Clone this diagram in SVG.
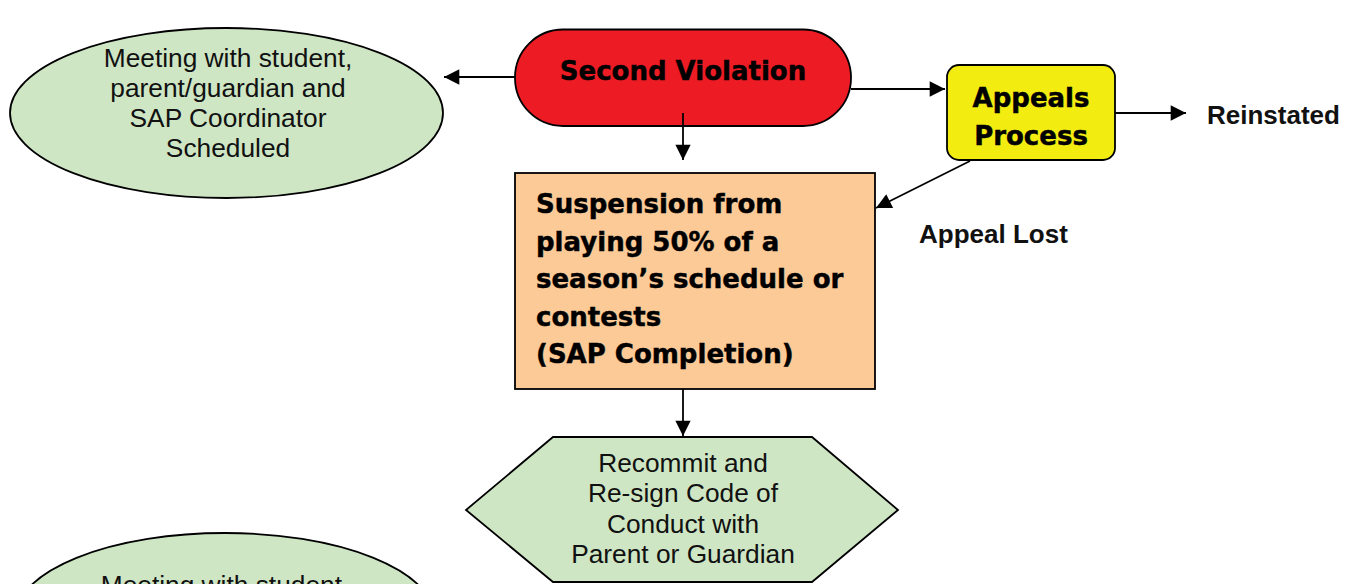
<svg xmlns="http://www.w3.org/2000/svg" width="1358" height="584" viewBox="0 0 1358 584">
<style>
.shape{stroke:#000;stroke-width:1.8}
.green{fill:#CFE6C5}
.reg{font-family:"Liberation Sans",Arial,sans-serif;font-size:26.3px;fill:#111;text-anchor:middle}
.blk{font-family:"DejaVu Sans","Liberation Sans",sans-serif;font-weight:bold;font-size:26px;fill:#000;stroke:#000;stroke-width:0.45}
.lbl{font-family:"Liberation Sans",Arial,sans-serif;font-weight:bold;font-size:26px;fill:#111}
.conn{stroke:#000;stroke-width:1.8;fill:none;marker-end:url(#ah)}
</style>
<defs>
<marker id="ah" viewBox="0 0 10 10" refX="10" refY="5" markerWidth="9" markerHeight="8.5" markerUnits="strokeWidth" orient="auto">
<path d="M0,0 L10,5 L0,10 z" fill="#000"/>
</marker>
</defs>
<rect width="1358" height="584" fill="#fff"/>
<g id="meeting1">
<ellipse class="shape green" cx="226.5" cy="113" rx="216.5" ry="85"/>
<text class="reg" x="228" y="67">Meeting with student,</text>
<text class="reg" x="228" y="97">parent/guardian and</text>
<text class="reg" x="228" y="127">SAP Coordinator</text>
<text class="reg" x="228" y="157">Scheduled</text>
</g>
<g id="second-violation">
<rect class="shape" x="515" y="29.5" width="336" height="96.5" rx="48" ry="48" fill="#ED1C24"/>
<text class="blk" x="683" y="80" text-anchor="middle">Second Violation</text>
</g>
<g id="appeals">
<rect class="shape" x="947" y="65" width="168" height="95" rx="12" ry="12" fill="#F3EC11"/>
<text class="blk" x="1031" y="107" text-anchor="middle">Appeals</text>
<text class="blk" x="1031" y="145" text-anchor="middle">Process</text>
</g>
<g id="reinstated">
<text class="lbl" x="1207" y="124">Reinstated</text>
</g>
<g id="appeal-lost">
<text class="lbl" x="919" y="243">Appeal Lost</text>
</g>
<g id="suspension">
<rect class="shape" x="515" y="173" width="360" height="216" fill="#FBCA97"/>
<text class="blk" x="536" y="213">Suspension from</text>
<text class="blk" x="536" y="251">playing 50% of a</text>
<text class="blk" x="536" y="288">season’s schedule or</text>
<text class="blk" x="536" y="326">contests</text>
<text class="blk" x="536" y="363">(SAP Completion)</text>
</g>
<g id="recommit">
<polygon class="shape green" points="553,437 812,437 898,510 812,582 553,582 466,510"/>
<text class="reg" x="683" y="472">Recommit and</text>
<text class="reg" x="683" y="502">Re-sign Code of</text>
<text class="reg" x="683" y="533">Conduct with</text>
<text class="reg" x="683" y="563">Parent or Guardian</text>
</g>
<g id="meeting2">
<ellipse class="shape green" cx="225" cy="618" rx="210" ry="85"/>
<text class="reg" x="225" y="594">Meeting with student,</text>
</g>
<g id="connectors">
<line class="conn" x1="515" y1="77" x2="444" y2="77"/>
<line class="conn" x1="683" y1="113" x2="683" y2="160"/>
<line class="conn" x1="851" y1="89" x2="945" y2="89"/>
<line class="conn" x1="1115" y1="113" x2="1186" y2="113"/>
<line class="conn" x1="970" y1="161" x2="876" y2="208"/>
<line class="conn" x1="683" y1="389" x2="683" y2="436"/>
</g>
</svg>
